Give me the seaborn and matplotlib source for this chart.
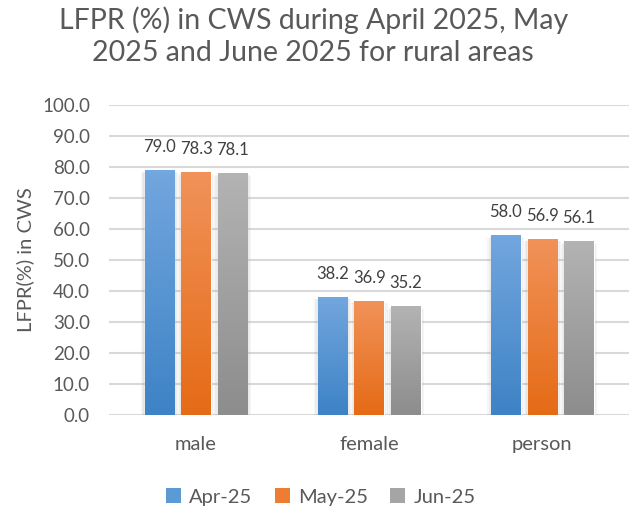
import numpy as np
import pandas as pd
import matplotlib
matplotlib.use("Agg")
import matplotlib.pyplot as plt
import seaborn as sns
from matplotlib.colors import LinearSegmentedColormap
from matplotlib.patches import Rectangle

# chart data
categories = ["male", "female", "person"]
months = ["Apr-25", "May-25", "Jun-25"]
apr_25 = [79.0, 38.2, 58.0]
may_25 = [78.3, 36.9, 56.9]
jun_25 = [78.1, 35.2, 56.1]

y_ticks = [0, 10, 20, 30, 40, 50, 60, 70, 80, 90, 100]

# long format for seaborn
df = pd.DataFrame({
    "category": categories * 3,
    "month": [m for m in months for _ in categories],
    "value": apr_25 + may_25 + jun_25,
})

# gradient colours (top, bottom) per month
grad = {
    "Apr-25": ("#72a6de", "#3e83c6"),
    "May-25": ("#f19259", "#e56b16"),
    "Jun-25": ("#b3b3b3", "#8d8d8d"),
}
flat = {"Apr-25": "#5b9bd5", "May-25": "#ed7d31", "Jun-25": "#a5a5a5"}

text_col = "#595959"

sns.set_style("white")
plt.rcParams["font.family"] = ["Lato", "DejaVu Sans"]

fig = plt.figure(figsize=(6.29, 5.15), dpi=100)
ax = fig.add_axes([0.174, 0.194, 0.826, 0.602])

sns.barplot(data=df, x="category", y="value", hue="month", order=categories,
            hue_order=months, palette=flat, width=0.633, gap=0.19,
            legend=False, ax=ax, zorder=3)

# gradient fill, soft shadow and value labels
for cont, month in zip(ax.containers, months):
    cmap = LinearSegmentedColormap.from_list(month, [grad[month][1], grad[month][0]])
    for bar in cont:
        x0, y0 = bar.get_x(), bar.get_y()
        w, h = bar.get_width(), bar.get_height()
        for k in range(1, 4):
            dx = 0.007 * k
            ax.add_patch(Rectangle((x0 - dx, y0), w + 2 * dx, h - 0.3 * k,
                                   facecolor="#808080", edgecolor="none",
                                   alpha=0.07, zorder=2))
        img = ax.imshow(np.linspace(0, 1, 64).reshape(-1, 1), cmap=cmap,
                        extent=[x0, x0 + w, y0, y0 + h], origin="lower",
                        aspect="auto", zorder=3.5)
        img.set_clip_path(bar)
        bar.set_facecolor("none")
        ax.text(x0 + w / 2, y0 + h + 4.8, f"{h:.1f}", ha="center", va="bottom",
                fontsize=12, color="#404040")

ax.set_aspect("auto")
ax.set_xlim(-0.5, 2.5)
ax.set_ylim(0, 100)

# axes styling
ax.set_yticks(y_ticks)
ax.set_yticklabels([f"{t:.1f}" for t in y_ticks])
ax.yaxis.grid(True, color="#d9d9d9", linewidth=1.5, zorder=0)
ax.set_axisbelow(True)
for s in ax.spines.values():
    s.set_visible(False)
ax.tick_params(axis="both", length=0, labelsize=13.5, colors=text_col)
ax.tick_params(axis="y", pad=14)
ax.tick_params(axis="x", pad=15, labelsize=14.5)
ax.set_xlabel("")
ax.set_ylabel("LFPR(%) in CWS", fontsize=14.5, color=text_col, labelpad=6)

# title
fig.text(0.498, 0.987, "LFPR (%) in CWS during April 2025, May\n2025 and June 2025 for rural areas",
         ha="center", va="top", fontsize=20.5, color=text_col, linespacing=1.28)

# legend
handles = [Rectangle((0, 0), 1, 1, facecolor=flat[m], edgecolor="none") for m in months]
fig.legend(handles, months, loc="center", bbox_to_anchor=(0.51, 0.035), ncol=3,
           frameon=False, fontsize=14.5, handlelength=0.75, handleheight=0.75,
           handletextpad=0.4, columnspacing=1.1, labelcolor=text_col)

fig.savefig("out.png", dpi=100)
